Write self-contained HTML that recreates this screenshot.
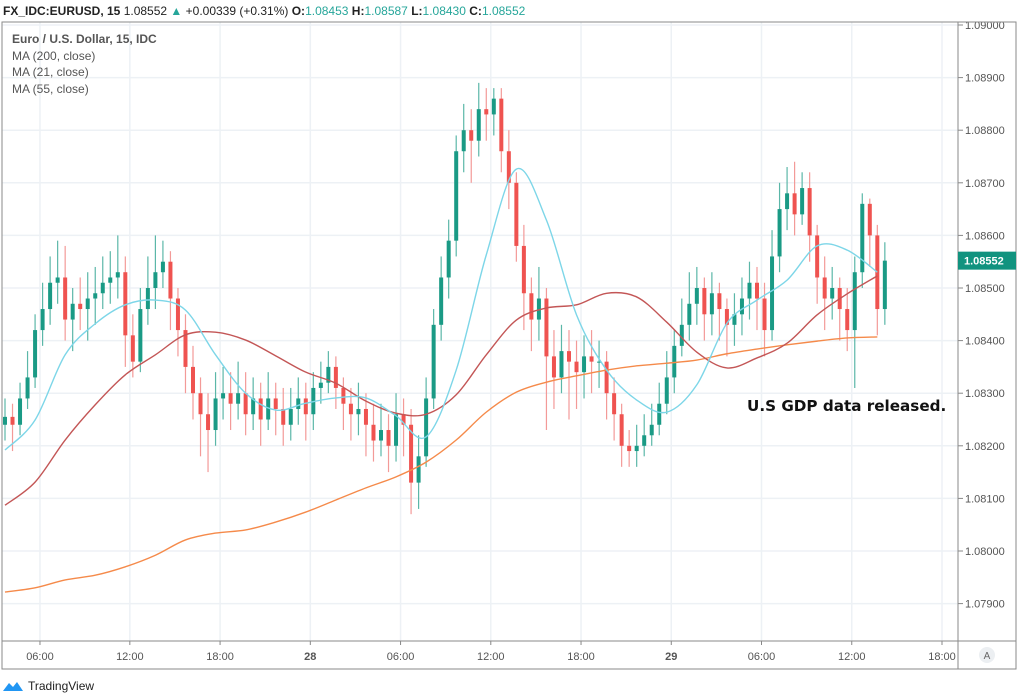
<!DOCTYPE html>
<html><head><meta charset="utf-8">
<style>
body{margin:0;background:#fff;width:1017px;height:693px;overflow:hidden;font-family:"Liberation Sans",sans-serif;}
svg{display:block}
</style></head>
<body>
<svg id="chart" width="1017" height="693">
  <g id="grid"></g>
  <g id="candles"></g>
  <g id="mas"></g>
  <g id="axes"></g>
  <text x="3" y="15" font-size="12" fill="#222"><tspan font-weight="bold">FX_IDC:EURUSD, 15</tspan> 1.08552 <tspan fill="#26a69a">▲</tspan> +0.00339 (+0.31%) <tspan font-weight="bold">O:</tspan><tspan fill="#26a69a">1.08453</tspan> <tspan font-weight="bold">H:</tspan><tspan fill="#26a69a">1.08587</tspan> <tspan font-weight="bold">L:</tspan><tspan fill="#26a69a">1.08430</tspan> <tspan font-weight="bold">C:</tspan><tspan fill="#26a69a">1.08552</tspan></text>
  <g font-size="12" fill="#555">
    <text x="12" y="43" font-weight="bold">Euro / U.S. Dollar, 15, IDC</text>
    <text x="12" y="60">MA (200, close)</text>
    <text x="12" y="76">MA (21, close)</text>
    <text x="12" y="93">MA (55, close)</text>
  </g>
  <text x="747" y="411" font-size="15.2" font-weight="bold" fill="#111" font-family="'DejaVu Sans',sans-serif">U.S GDP data released.</text>
  <g>
    <path d="M3 691 L9 683 L13 687 L17 682 L23 691 Z" fill="#2196f3"/>
    <text x="28" y="690" font-size="12" fill="#222">TradingView</text>
  </g>
</svg>
<script>
const closes=[1.08255,1.08240,1.08290,1.08330,1.08420,1.08460,1.08510,1.08520,1.08440,1.08470,1.08460,1.08480,1.08490,1.08510,1.08520,1.08530,1.08410,1.08360,1.08460,1.08500,1.08530,1.08550,1.08480,1.08420,1.08350,1.08300,1.08260,1.08230,1.08290,1.08300,1.08280,1.08300,1.08260,1.08290,1.08250,1.08290,1.08270,1.08240,1.08270,1.08290,1.08260,1.08310,1.08320,1.08350,1.08310,1.08280,1.08260,1.08270,1.08240,1.08210,1.08230,1.08200,1.08260,1.08240,1.08130,1.08180,1.08290,1.08430,1.08520,1.08590,1.08760,1.08800,1.08780,1.08840,1.08830,1.08860,1.08760,1.08700,1.08580,1.08490,1.08440,1.08480,1.08370,1.08330,1.08380,1.08360,1.08340,1.08370,1.08360,1.08360,1.08300,1.08260,1.08200,1.08190,1.08200,1.08220,1.08240,1.08280,1.08330,1.08390,1.08430,1.08470,1.08500,1.08450,1.08490,1.08460,1.08430,1.08450,1.08480,1.08510,1.08480,1.08420,1.08560,1.08650,1.08680,1.08640,1.08690,1.08600,1.08520,1.08480,1.08500,1.08460,1.08420,1.08530,1.08660,1.08600,1.08460,1.08552];
const firstOpen=1.08240;
const highs=[1.08290,1.08280,1.08320,1.08380,1.08450,1.08510,1.08560,1.08590,1.08580,1.08500,1.08520,1.08530,1.08540,1.08560,1.08570,1.08600,1.08560,1.08450,1.08500,1.08560,1.08600,1.08590,1.08570,1.08500,1.08450,1.08390,1.08330,1.08300,1.08340,1.08350,1.08340,1.08360,1.08340,1.08330,1.08320,1.08340,1.08320,1.08310,1.08310,1.08330,1.08320,1.08340,1.08360,1.08380,1.08370,1.08330,1.08310,1.08320,1.08300,1.08280,1.08280,1.08260,1.08300,1.08290,1.08270,1.08220,1.08330,1.08460,1.08560,1.08630,1.08790,1.08850,1.08840,1.08890,1.08880,1.08880,1.08880,1.08800,1.08720,1.08620,1.08520,1.08540,1.08500,1.08420,1.08430,1.08420,1.08400,1.08410,1.08420,1.08400,1.08380,1.08330,1.08280,1.08230,1.08240,1.08260,1.08280,1.08320,1.08380,1.08420,1.08480,1.08530,1.08540,1.08520,1.08530,1.08510,1.08480,1.08490,1.08520,1.08550,1.08540,1.08510,1.08610,1.08700,1.08730,1.08740,1.08720,1.08720,1.08620,1.08560,1.08540,1.08520,1.08500,1.08560,1.08680,1.08670,1.08620,1.08587];
const lows=[1.08210,1.08190,1.08220,1.08270,1.08310,1.08390,1.08430,1.08470,1.08400,1.08380,1.08420,1.08400,1.08430,1.08460,1.08470,1.08480,1.08350,1.08330,1.08340,1.08430,1.08460,1.08500,1.08420,1.08370,1.08300,1.08250,1.08180,1.08150,1.08200,1.08250,1.08230,1.08250,1.08220,1.08230,1.08200,1.08230,1.08220,1.08200,1.08210,1.08240,1.08210,1.08230,1.08280,1.08300,1.08270,1.08230,1.08210,1.08220,1.08180,1.08170,1.08180,1.08150,1.08170,1.08180,1.08070,1.08080,1.08160,1.08270,1.08400,1.08480,1.08560,1.08720,1.08700,1.08750,1.08780,1.08790,1.08720,1.08650,1.08550,1.08420,1.08380,1.08400,1.08230,1.08270,1.08300,1.08250,1.08270,1.08290,1.08300,1.08310,1.08250,1.08210,1.08160,1.08160,1.08160,1.08180,1.08200,1.08220,1.08260,1.08300,1.08370,1.08400,1.08430,1.08400,1.08410,1.08400,1.08370,1.08390,1.08410,1.08440,1.08420,1.08370,1.08400,1.08530,1.08610,1.08600,1.08620,1.08550,1.08470,1.08420,1.08440,1.08400,1.08380,1.08310,1.08500,1.08540,1.08410,1.08430];
const maStep=4;
const ma21=[1.08192,1.08249,1.08373,1.08432,1.08468,1.08477,1.08458,1.08373,1.08300,1.08268,1.08281,1.08291,1.08291,1.08257,1.08217,1.08344,1.08563,1.08726,1.08629,1.08449,1.08344,1.08287,1.08264,1.08316,1.08433,1.08477,1.08515,1.08580,1.08572,1.08530];
const ma55=[1.08087,1.08131,1.08211,1.08278,1.08335,1.08373,1.08411,1.08416,1.08401,1.08371,1.08340,1.08319,1.08285,1.08262,1.08260,1.08297,1.08373,1.08439,1.08462,1.08468,1.08490,1.08483,1.08435,1.08378,1.08348,1.08367,1.08395,1.08449,1.08489,1.08523];
const ma200=[1.07922,1.07930,1.07945,1.07954,1.07970,1.07992,1.08021,1.08034,1.08040,1.08055,1.08074,1.08097,1.08120,1.08141,1.08169,1.08211,1.08264,1.08302,1.08321,1.08333,1.08344,1.08352,1.08357,1.08363,1.08375,1.08384,1.08392,1.08399,1.08405,1.08407];
const priceTicks=[1.07900,1.08000,1.08100,1.08200,1.08300,1.08400,1.08500,1.08600,1.08700,1.08800,1.08900,1.09000];
const timeLabels=["06:00","12:00","18:00","28","06:00","12:00","18:00","29","06:00","12:00","18:00"];
const timeTickBars=[4.65,16.6,28.6,40.6,52.6,64.6,76.6,88.6,100.6,112.6,124.6];
const lastPrice=1.08552;

const NS="http://www.w3.org/2000/svg";
const X0=5,BW=7.52,PT=25,PP=52600,P0=1.09;
const L=2,R=958,T=22,B=641;
function xs(i){return X0+i*BW;}
function ys(p){return PT+(P0-p)*PP;}
function mk(tag,attrs,parent){const e=document.createElementNS(NS,tag);for(const k in attrs)e.setAttribute(k,attrs[k]);parent.appendChild(e);return e;}
const grid=document.getElementById('grid'),cg=document.getElementById('candles'),mg=document.getElementById('mas'),ax=document.getElementById('axes');

priceTicks.forEach(p=>{
  const y=ys(p);
  const gl=mk('line',{x1:L,x2:R,y1:y,y2:y,stroke:'#edf1f5','stroke-width':1.5},grid);
  
  
  mk('line',{x1:R,x2:R+5,y1:y,y2:y,stroke:'#888'},ax);
  const t=mk('text',{x:R+7,y:y+4,'font-size':11,fill:'#555'},ax);
  t.textContent=p.toFixed(5);
  
  
});
timeLabels.forEach((lab,k)=>{
  const x=xs(timeTickBars[k]);
  const gl=mk('line',{x1:x,x2:x,y1:T,y2:B,stroke:'#edf1f5','stroke-width':1.5},grid);
  
  
  mk('line',{x1:x,x2:x,y1:B,y2:B+4,stroke:'#888'},ax);
  const t=mk('text',{x:x,y:660,'font-size':11,fill:'#555','text-anchor':'middle','font-weight':(lab.length<3?'bold':'normal')},ax);
  t.textContent=lab;
  
  
});

closes.forEach((c,i)=>{
  const o=i===0?firstOpen:closes[i-1];
  const up=c>=o, col=up?'#1a9a85':'#ef5350', wcol=up?'#5bb7a8':'#f39a98';
  const x=xs(i);
  const w=mk('line',{x1:x,x2:x,y1:ys(highs[i]),y2:ys(lows[i]),stroke:wcol,'stroke-width':1.2},cg);
  
  
  const yt=ys(Math.max(o,c)),yb=ys(Math.min(o,c));
  const b=mk('rect',{x:x-2,y:yt,width:4,height:Math.max(1,yb-yt),fill:col},cg);
  
  
});

function drawMA(arr,color,name){
  const P=arr.map((v,k)=>[xs(k*maStep),ys(v)]);
  let d='M'+P[0][0]+','+P[0][1];
  for(let k=0;k<P.length-1;k++){
    const p0=P[Math.max(0,k-1)],p1=P[k],p2=P[k+1],p3=P[Math.min(P.length-1,k+2)];
    const c1=[p1[0]+(p2[0]-p0[0])/6,p1[1]+(p2[1]-p0[1])/6];
    const c2=[p2[0]-(p3[0]-p1[0])/6,p2[1]-(p3[1]-p1[1])/6];
    d+=' C'+c1[0]+','+c1[1]+' '+c2[0]+','+c2[1]+' '+p2[0]+','+p2[1];
  }
  const pl=mk('path',{d:d,fill:'none',stroke:color,'stroke-width':1.4},mg);
  
  
}
drawMA(ma200,'#f58a4a','ma200-line');
drawMA(ma55,'#c35656','ma55-line');
drawMA(ma21,'#7dd6e8','ma21-line');

mk('rect',{x:L,y:T,width:1016-L,height:669-T,fill:'none',stroke:'#8a8a8a'},ax);
mk('line',{x1:R,x2:R,y1:T,y2:669,stroke:'#8a8a8a'},ax);
mk('line',{x1:L,x2:1016,y1:B,y2:B,stroke:'#8a8a8a'},ax);
const ly=ys(lastPrice);
const lb=mk('rect',{x:R,y:ly-9,width:58,height:18,fill:'#11937f'},ax);


const lt=mk('text',{x:R+6,y:ly+4,'font-size':11,'font-weight':'bold',fill:'#fff'},ax);
lt.textContent=lastPrice.toFixed(5);
const ab=mk('circle',{cx:987,cy:655,r:8,fill:'#eceff2'},ax);


const at=mk('text',{x:987,y:659,'font-size':10,fill:'#666','text-anchor':'middle'},ax);
at.textContent='A';
</script>
</body></html>
